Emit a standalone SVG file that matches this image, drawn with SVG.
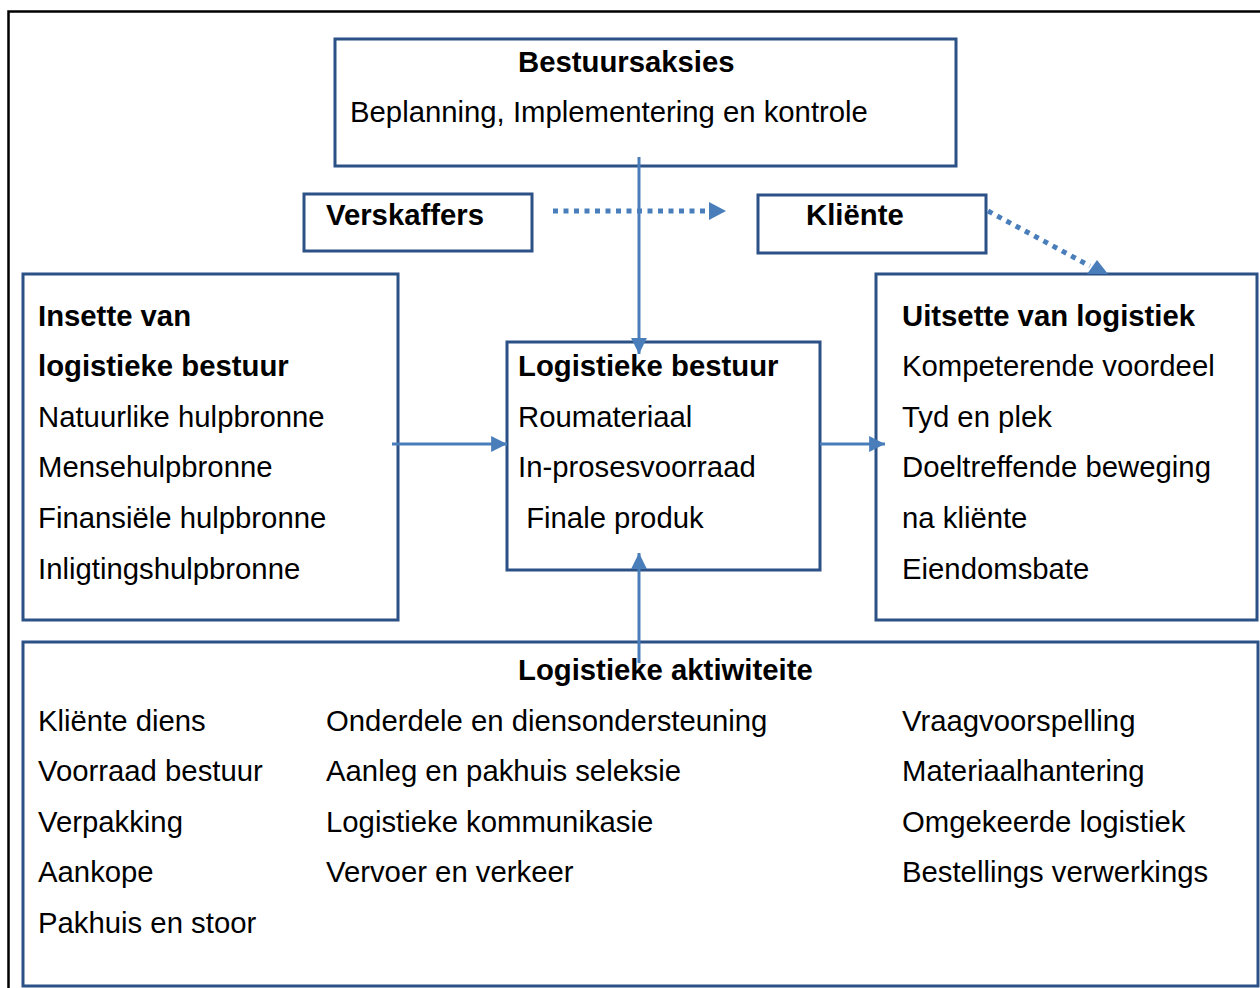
<svg xmlns="http://www.w3.org/2000/svg" width="1260" height="988" viewBox="0 0 1260 988">
  <style>
    .box { fill: #ffffff; stroke: #2b5186; stroke-width: 3; }
    .t { font-family: "Liberation Sans", Arial, sans-serif; font-size: 29.3px; fill: #000000; }
    .b { font-weight: bold; }
    .conn { stroke: #4a7ebb; stroke-width: 3; fill: none; }
    .dot { stroke: #4a7ebb; stroke-width: 5; fill: none; stroke-dasharray: 5 5.5; }
    .head { fill: #4a7ebb; }
  </style>
  <defs>
    <marker id="arrow" viewBox="0 0 10 10" refX="10" refY="5" markerWidth="5.3" markerHeight="5.3" markerUnits="strokeWidth" orient="auto">
      <path d="M0,0 L10,5 L0,10 Z" class="head"/>
    </marker>
  </defs>

  <rect x="0" y="0" width="1260" height="988" fill="#ffffff"/>
  <!-- outer frame -->
  <rect x="8.5" y="11.5" width="1270" height="990" fill="none" stroke="#000000" stroke-width="2.5"/>

  <g id="bestuursaksies">
    <rect class="box" x="335" y="39" width="621" height="127"/>
    <text class="t b" x="518" y="72">Bestuursaksies</text>
    <text class="t" x="350" y="122">Beplanning, Implementering en kontrole</text>
  </g>

  <g id="verskaffers">
    <rect class="box" x="304" y="194" width="228" height="57"/>
    <text class="t b" x="326" y="225">Verskaffers</text>
  </g>

  <g id="kliente">
    <rect class="box" x="758" y="195" width="228" height="58"/>
    <text class="t b" x="806" y="225">Kliënte</text>
  </g>

  <g id="insette">
    <rect class="box" x="23" y="274" width="375" height="346"/>
    <text class="t b" x="38" y="326">Insette van</text>
    <text class="t b" x="38" y="376">logistieke bestuur</text>
    <text class="t" x="38" y="427">Natuurlike hulpbronne</text>
    <text class="t" x="38" y="477">Mensehulpbronne</text>
    <text class="t" x="38" y="528">Finansiële hulpbronne</text>
    <text class="t" x="38" y="579">Inligtingshulpbronne</text>
  </g>

  <g id="logistieke-bestuur">
    <rect class="box" x="507" y="342" width="313" height="228"/>
    <text class="t b" x="518" y="376">Logistieke bestuur</text>
    <text class="t" x="518" y="427">Roumateriaal</text>
    <text class="t" x="518" y="477">In-prosesvoorraad</text>
    <text class="t" x="518" y="528" xml:space="preserve"> Finale produk</text>
  </g>

  <g id="uitsette">
    <rect class="box" x="876" y="274" width="381" height="346"/>
    <text class="t b" x="902" y="326">Uitsette van logistiek</text>
    <text class="t" x="902" y="376">Kompeterende voordeel</text>
    <text class="t" x="902" y="427">Tyd en plek</text>
    <text class="t" x="902" y="477">Doeltreffende beweging</text>
    <text class="t" x="902" y="528">na kliënte</text>
    <text class="t" x="902" y="579">Eiendomsbate</text>
  </g>

  <g id="aktiwiteite">
    <rect class="box" x="23" y="642" width="1235" height="344"/>
    <text class="t b" x="518" y="680">Logistieke aktiwiteite</text>
    <text class="t" x="38" y="731">Kliënte diens</text>
    <text class="t" x="38" y="781">Voorraad bestuur</text>
    <text class="t" x="38" y="832">Verpakking</text>
    <text class="t" x="38" y="882">Aankope</text>
    <text class="t" x="38" y="933">Pakhuis en stoor</text>
    <text class="t" x="326" y="731">Onderdele en diensondersteuning</text>
    <text class="t" x="326" y="781">Aanleg en pakhuis seleksie</text>
    <text class="t" x="326" y="832">Logistieke kommunikasie</text>
    <text class="t" x="326" y="882">Vervoer en verkeer</text>
    <text class="t" x="902" y="731">Vraagvoorspelling</text>
    <text class="t" x="902" y="781">Materiaalhantering</text>
    <text class="t" x="902" y="832">Omgekeerde logistiek</text>
    <text class="t" x="902" y="882">Bestellings verwerkings</text>
  </g>

  <!-- connectors drawn over the box edges -->
  <g id="connectors">
    <line class="conn" x1="639" y1="157" x2="639" y2="354" marker-end="url(#arrow)"/>
    <line class="conn" x1="392" y1="444" x2="507" y2="444" marker-end="url(#arrow)"/>
    <line class="conn" x1="820" y1="444" x2="885" y2="444" marker-end="url(#arrow)"/>
    <line class="conn" x1="639" y1="663" x2="639" y2="553" marker-end="url(#arrow)"/>
    <line class="dot" x1="553" y1="211" x2="709" y2="211"/>
    <polygon class="head" points="709,202 726,211 709,220"/>
    <line class="dot" x1="988" y1="211" x2="1090" y2="266"/>
    <polygon class="head" points="1097,260 1087,274 1108,274"/>
  </g>
</svg>
